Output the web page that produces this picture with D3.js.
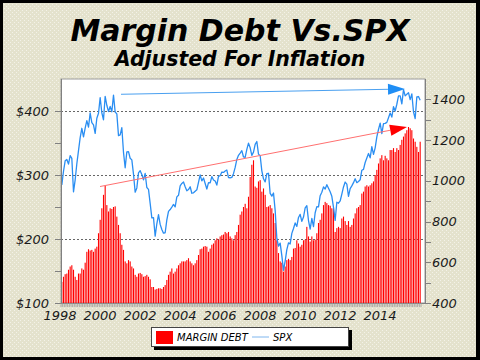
<!DOCTYPE html>
<html><head><meta charset="utf-8">
<script src="https://cdn.jsdelivr.net/npm/d3@7"></script>
<style>html,body{margin:0;padding:0;background:#fff}svg{display:block}</style>
</head><body>
<script>
// ---- data ----
const startYear = 1998;
const yearTicks = [1998,2000,2002,2004,2006,2008,2010,2012,2014];
const leftTicks = [100,200,300,400];
const leftMinor = [150,250,350];
const rightTicks = [400,600,800,1000,1200,1400];
const rightMinor = [500,700,900,1100,1300];
const gridValues = [200,300,400];
// Margin debt (inflation adjusted, $bn), monthly Jan 1998 - Dec 2015
const marginDebt = [
 133,141,145,146,152,157,159,152,141,136,146,146,
 154,152,163,180,184,182,183,180,185,188,209,230,
 248,269,283,253,243,248,247,250,251,235,222,209,
 191,183,165,162,167,165,157,154,144,141,146,147,
 145,141,142,144,141,137,125,125,121,122,123,123,
 122,125,128,136,144,149,154,146,149,154,159,162,
 165,165,165,167,170,165,162,159,162,167,175,184,
 185,188,189,188,180,185,191,193,198,201,199,204,
 206,207,211,209,211,204,201,198,206,211,222,238,
 243,250,255,248,266,297,316,323,282,280,290,292,
 274,279,269,250,251,253,248,240,225,198,178,165,
 163,149,157,167,169,167,172,185,186,198,193,188,
 191,198,199,219,204,196,204,198,199,209,225,230,
 240,253,258,256,253,252,248,248,211,217,219,217,
 232,235,228,222,228,219,222,232,240,248,250,253,
 271,274,282,284,282,284,287,290,300,308,318,326,
 331,323,330,326,323,339,339,342,336,342,339,347,
 355,360,365,370,375,373,370,357,352,344,336,352];
// SPX (inflation adjusted), monthly Jan 1998 - Dec 2015
const spx = [
 980,1047,1098,1105,1082,1124,1110,946,1005,1084,1148,1212,
 1258,1216,1259,1296,1264,1333,1286,1275,1233,1307,1332,1409,
 1334,1300,1415,1371,1340,1365,1339,1421,1338,1329,1222,1226,
 1261,1140,1064,1142,1143,1111,1103,1033,944,965,1039,1050,
 1031,1005,1036,967,958,889,818,819,728,789,834,786,
 761,743,745,808,850,859,871,884,872,921,929,975,
 987,994,971,951,957,971,939,941,949,956,992,1029,
 1000,1014,987,960,991,990,1021,1004,999,979,1022,1025,
 1043,1041,1048,1053,1016,1015,1017,1035,1066,1105,1125,1136,
 1148,1117,1115,1154,1185,1162,1125,1141,1179,1193,1131,1123,
 1049,1010,995,1035,1037,938,925,940,855,718,679,694,
 633,560,606,662,695,690,742,766,793,776,820,835,
 801,822,867,878,805,763,815,775,843,873,872,927,
 944,970,960,981,963,946,924,870,806,895,890,901,
 935,970,994,984,924,962,975,991,1010,991,997,1005,
 1052,1056,1090,1112,1134,1113,1168,1130,1162,1216,1252,1283,
 1232,1281,1282,1287,1310,1333,1313,1364,1343,1376,1417,1417,
 1378,1448,1417,1425,1433,1399,1427,1339,1306,1412,1414,1396];
// trend arrows in data coordinates: [year, value]
const spxArrow = [[2001.0,1425],[2015.2,1451]];
const debtArrow = [[1999.95,282],[2015.3,375]];
const titleText = "Margin Debt Vs.SPX";
const subtitleText = "Adjusted For Inflation";
const legendLabels = ["MARGIN DEBT","SPX"];

// ---- layout ----
const W = 480, H = 360;
const P = {l:61, r:425, t:79, b:303};
const font = "'DejaVu Sans', Verdana, sans-serif";
const svg = d3.select("body").append("svg").attr("width",W).attr("height",H);

const defs = svg.append("defs");
const pat = defs.append("pattern").attr("id","dots").attr("width",4).attr("height",4).attr("patternUnits","userSpaceOnUse");
pat.append("rect").attr("width",4).attr("height",4).attr("fill","#E4E2CD");
pat.append("rect").attr("x",0).attr("y",0).attr("width",1).attr("height",1).attr("fill","#F3F2E8");
pat.append("rect").attr("x",2).attr("y",2).attr("width",1).attr("height",1).attr("fill","#F3F2E8");

svg.append("rect").attr("width",W).attr("height",H).attr("fill","#000");
svg.append("rect").attr("x",3).attr("y",3).attr("width",473).attr("height",354).attr("fill","url(#dots)");

// titles
svg.append("text").attr("x",240).attr("y",41).attr("text-anchor","middle")
  .attr("font-family",font).attr("font-weight","bold").attr("font-style","italic")
  .attr("font-size",30).attr("fill","#000").text(titleText);
svg.append("text").attr("x",240).attr("y",66).attr("text-anchor","middle")
  .attr("font-family",font).attr("font-weight","bold").attr("font-style","italic")
  .attr("font-size",20.5).attr("fill","#000").text(subtitleText);

// scales
const x = d3.scaleLinear().domain([1998,2016.2]).range([P.l,P.r]);
const yL = d3.scaleLinear().domain([100,450]).range([P.b,P.t]);
const yR = d3.scaleLinear().domain([400,1500]).range([P.b,P.t]);
const mx = i => x(startYear + (i+0.5)/12);

// plot background
svg.append("rect").attr("x",P.l).attr("y",P.t).attr("width",P.r-P.l).attr("height",P.b-P.t)
  .attr("fill","#fff").attr("stroke","#9a9a9a").attr("stroke-width",1);

// grid
svg.append("g").selectAll("line").data(gridValues).join("line")
  .attr("x1",P.l).attr("x2",P.r).attr("y1",d=>Math.round(yL(d))+0.5).attr("y2",d=>Math.round(yL(d))+0.5)
  .attr("stroke","#666").attr("stroke-width",1).attr("stroke-dasharray","2,2");

// bars
const bw = 1.1;
svg.append("g").selectAll("rect").data(marginDebt).join("rect")
  .attr("x",(d,i)=>mx(i)-bw/2).attr("width",bw)
  .attr("y",d=>yL(d)).attr("height",d=>yL(100)-yL(d))
  .attr("fill","#ff0000");

// spx line
svg.append("path").datum(spx)
  .attr("d",d3.line().x((d,i)=>mx(i)).y(d=>yR(d)))
  .attr("fill","none").attr("stroke","#2a8ef2").attr("stroke-width",1.3).attr("stroke-linejoin","round");

// arrows
function arrow(pts, yScale, lineColor, headColor){
  const [a,b] = pts;
  const x1 = x(a[0]), y1 = yScale(a[1]), x2 = x(b[0]), y2 = yScale(b[1]);
  const ang = Math.atan2(y2-y1, x2-x1);
  const len = 17, hw = 5.5;
  const bx = x2 - len*Math.cos(ang), by = y2 - len*Math.sin(ang);
  const px = -Math.sin(ang)*hw, py = Math.cos(ang)*hw;
  svg.append("line").attr("x1",x1).attr("y1",y1).attr("x2",bx).attr("y2",by)
    .attr("stroke",lineColor).attr("stroke-width",1);
  svg.append("path").attr("d",`M${x2},${y2}L${bx+px},${by+py}L${bx-px},${by-py}Z`).attr("fill",headColor);
}
arrow(spxArrow, yR, "#4aa0f0", "#1f8ef5");
arrow(debtArrow, yL, "#ff7070", "#ff0000");

// axes
const axisColor = "#808080", txtColor = "#1a1a1a";
const ax = svg.append("g");
ax.append("line").attr("x1",P.l+0.5).attr("x2",P.l+0.5).attr("y1",P.t).attr("y2",P.b).attr("stroke",axisColor);
ax.append("line").attr("x1",P.r+0.5).attr("x2",P.r+0.5).attr("y1",P.t).attr("y2",P.b+1).attr("stroke",axisColor);
ax.append("line").attr("x1",P.l).attr("x2",P.r).attr("y1",P.b+0.5).attr("y2",P.b+0.5).attr("stroke",axisColor);
// left ticks
ax.selectAll(".lt").data(leftTicks.concat(leftMinor)).join("line")
  .attr("x1",P.l-6).attr("x2",P.l).attr("y1",d=>Math.round(yL(d))+0.5).attr("y2",d=>Math.round(yL(d))+0.5).attr("stroke",axisColor);
ax.selectAll(".ll").data(leftTicks).join("text")
  .attr("x",P.l-12).attr("y",d=>yL(d)+4.5).attr("text-anchor","end")
  .attr("font-family",font).attr("font-style","italic").attr("font-size",13).attr("fill",txtColor)
  .text(d=>"$"+d);
// right ticks
ax.selectAll(".rt").data(rightTicks.concat(rightMinor)).join("line")
  .attr("x1",P.r).attr("x2",P.r+6).attr("y1",d=>Math.round(yR(d))+0.5).attr("y2",d=>Math.round(yR(d))+0.5).attr("stroke",axisColor);
ax.selectAll(".rl").data(rightTicks).join("text")
  .attr("x",P.r+7).attr("y",d=>yR(d)+4.5).attr("text-anchor","start")
  .attr("font-family",font).attr("font-style","italic").attr("font-size",13).attr("fill",txtColor)
  .text(d=>d);
// bottom monthly ticks
ax.selectAll(".bt").data(d3.range(0,marginDebt.length+1)).join("line")
  .attr("x1",i=>x(startYear+i/12)).attr("x2",i=>x(startYear+i/12))
  .attr("y1",P.b).attr("y2",P.b+4).attr("stroke","#9a9a9a").attr("stroke-width",0.8);
ax.selectAll(".bl").data(yearTicks).join("text")
  .attr("x",d=>x(d)-1).attr("y",320).attr("text-anchor","middle")
  .attr("font-family",font).attr("font-style","italic").attr("font-size",13).attr("fill",txtColor)
  .text(d=>d);

// legend
const lg = svg.append("g");
lg.append("rect").attr("x",154).attr("y",330).attr("width",198).attr("height",20).attr("fill","#000");
lg.append("rect").attr("x",151.5).attr("y",327.5).attr("width",197).attr("height",19).attr("fill","#fff").attr("stroke","#444").attr("stroke-width",1);
lg.append("rect").attr("x",156).attr("y",331).attr("width",17).attr("height",13).attr("fill","#ff0000");
lg.append("text").attr("x",177).attr("y",341).attr("font-family",font).attr("font-style","italic")
  .attr("font-size",10).attr("fill","#000").text(legendLabels[0]);
lg.append("line").attr("x1",252).attr("x2",269).attr("y1",337).attr("y2",337).attr("stroke","#7fb6ee").attr("stroke-width",1);
lg.append("text").attr("x",273).attr("y",341).attr("font-family",font).attr("font-style","italic")
  .attr("font-size",10).attr("fill","#000").text(legendLabels[1]);
</script>
</body></html>
